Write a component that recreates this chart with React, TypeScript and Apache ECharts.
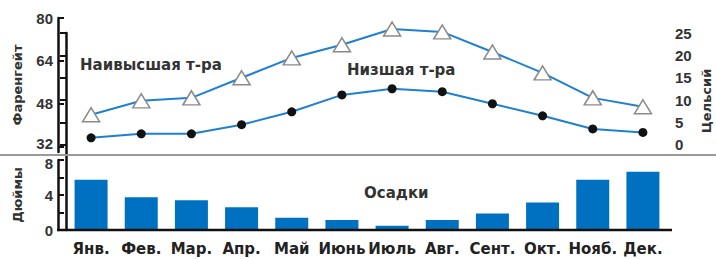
import React, { useEffect, useRef } from "react";
import * as echarts from "echarts";

const months = ["Янв.", "Фев.", "Мар.", "Апр.", "Май", "Июнь", "Июль", "Авг.", "Сент.", "Окт.", "Нояб.", "Дек."];
const highF = [43.9, 49.1, 50.2, 57.7, 65.1, 70.0, 75.9, 74.8, 67.3, 59.5, 50.2, 46.9];
const lowF = [35.3, 36.8, 36.8, 40.2, 45.0, 51.3, 53.6, 52.5, 48.0, 43.5, 38.6, 37.3];
const precipIn = [5.75, 3.75, 3.4, 2.6, 1.4, 1.15, 0.5, 1.15, 1.9, 3.15, 5.75, 6.65];
const fTicks = [32, 48, 64, 80];
const cTicks = [0, 5, 10, 15, 20, 25];
const inLabels = [0, 4, 8];

const FONT = "DejaVu Sans";
const NUMFONT = "Liberation Sans";
const LINE = "#1f80d2";
const BAR = "#0070c0";
const AX = "#111";

export default function App() {
  const ref = useRef<HTMLDivElement>(null);
  useEffect(() => {
    if (!ref.current) return;
    const chart = echarts.init(ref.current, null, { renderer: "svg" });
    const numText = { fontFamily: NUMFONT, fontWeight: "bold", fontSize: 15, color: "#333" };
    const nameStyle = { fontFamily: FONT, fontWeight: "bold", fontSize: 13, color: "#333" };
    chart.setOption({
      animation: false,
      grid: [
        { left: 66, top: 18, width: 602, height: 134 },
        { left: 66, top: 160, width: 602, height: 70 },
        { left: 66, top: 33, width: 605, height: 197 },
      ],
      xAxis: [
        { type: "category", gridIndex: 0, data: months, show: false },
        {
          type: "category",
          gridIndex: 1,
          data: months,
          axisLine: { show: false },
          axisTick: { show: false },
          axisLabel: { interval: 0, margin: 11, fontFamily: FONT, fontWeight: "bold", fontSize: 15, color: "#222" },
        },
        { type: "value", gridIndex: 2, min: 0, max: 1, show: false },
      ],
      yAxis: [
        {
          type: "value",
          gridIndex: 0,
          position: "left",
          offset: 8,
          min: 30,
          max: 80,
          splitLine: { show: false },
          axisLine: { show: true, lineStyle: { color: AX, width: 2.5 } },
          axisTick: { show: true, inside: true, length: 6, customValues: fTicks, lineStyle: { color: AX, width: 2 } },
          axisLabel: {
            customValues: fTicks,
            margin: 5,
            ...numText,
            formatter: (v: number) => (v === fTicks[0] ? `{lo|${v}}` : `{n|${v}}`),
            rich: { n: { ...numText }, lo: { ...numText, padding: [0, 0, 7, 0] } },
          },
          name: "Фаренгейт",
          nameLocation: "middle",
          nameRotate: 90,
          nameGap: 34,
          nameTextStyle: nameStyle,
        },
        {
          type: "value",
          gridIndex: 1,
          position: "left",
          offset: 8,
          min: 0,
          max: 8,
          interval: 2,
          splitLine: { show: false },
          axisLine: { show: true, lineStyle: { color: AX, width: 2.5 } },
          axisTick: { show: true, inside: true, length: 6, lineStyle: { color: AX, width: 2 } },
          axisLabel: {
            customValues: inLabels,
            margin: 5,
            ...numText,
            formatter: (v: number) => (v === inLabels[inLabels.length - 1] ? `{hi|${v}}` : `{n|${v}}`),
            rich: { n: { ...numText }, hi: { ...numText, padding: [7, 0, 0, 0] } },
          },
          name: "Дюймы",
          nameLocation: "middle",
          nameRotate: 90,
          nameGap: 34,
          nameTextStyle: nameStyle,
        },
        {
          type: "value",
          gridIndex: 2,
          position: "right",
          min: -19,
          max: 25,
          splitLine: { show: false },
          axisLine: { show: true, lineStyle: { color: AX, width: 2.5 } },
          axisTick: { show: true, inside: true, length: 6, customValues: cTicks, lineStyle: { color: AX, width: 2 } },
          axisLabel: { customValues: cTicks, margin: 4, ...numText },
        },
      ],
      series: [
        {
          type: "line",
          xAxisIndex: 0,
          yAxisIndex: 0,
          data: highF,
          symbol: "triangle",
          symbolSize: [17, 14],
          lineStyle: { color: LINE, width: 2 },
          itemStyle: { color: "#fff", borderColor: "#8a8a8a", borderWidth: 1.5 },
          z: 3,
        },
        {
          type: "line",
          xAxisIndex: 0,
          yAxisIndex: 0,
          data: lowF,
          symbol: "circle",
          symbolSize: 9,
          lineStyle: { color: LINE, width: 2 },
          itemStyle: { color: "#111", borderColor: "#111", borderWidth: 0 },
          z: 3,
        },
        {
          type: "bar",
          xAxisIndex: 1,
          yAxisIndex: 1,
          data: precipIn,
          barWidth: 33,
          itemStyle: { color: BAR },
        },
      ],
      graphic: [
        { type: "line", shape: { x1: 0, y1: 155, x2: 716, y2: 155 }, style: { stroke: "#9a9a9a", lineWidth: 2 }, z: 1 },
        { type: "line", shape: { x1: 57, y1: 230, x2: 672, y2: 230 }, style: { stroke: AX, lineWidth: 2.5 }, z: 10 },
        { type: "text", left: 80, top: 57, style: { text: "Наивысшая т-ра", font: `bold 15px "${FONT}"`, fill: "#333" } },
        { type: "text", left: 347, top: 62, style: { text: "Низшая т-ра", font: `bold 15px "${FONT}"`, fill: "#333" } },
        { type: "text", left: 364, top: 185, style: { text: "Осадки", font: `bold 15px "${FONT}"`, fill: "#333" } },
        {
          type: "text",
          x: 700,
          y: 101,
          rotation: Math.PI / 2,
          style: { text: "Цельсий", font: `bold 13px "${FONT}"`, fill: "#333", align: "center", verticalAlign: "top" },
        },
      ],
    });
    return () => chart.dispose();
  }, []);
  return <div ref={ref} style={{ position: "absolute", left: 0, top: 0, width: 716, height: 259 }} />;
}
